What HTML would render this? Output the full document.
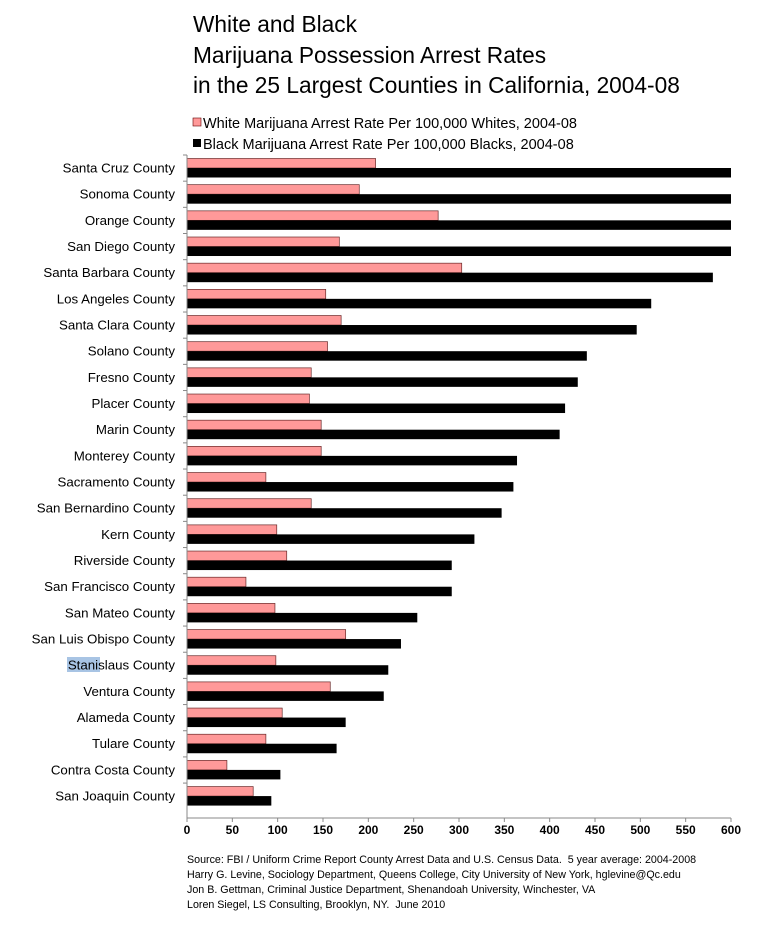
<!DOCTYPE html>
<html><head><meta charset="utf-8"><style>
body{margin:0;background:#fff;width:762px;height:930px;overflow:hidden;font-family:"Liberation Sans",Arial,sans-serif}
text{white-space:pre}
</style></head><body>
<svg width="762" height="930" xmlns="http://www.w3.org/2000/svg" font-family="Liberation Sans, Arial, sans-serif">
<g font-size="22.7" fill="#000">
<text x="193" y="32">White and Black</text>
<text x="193" y="63">Marijuana Possession Arrest Rates</text>
<text x="193" y="93">in the 25 Largest Counties in California, 2004-08</text>
</g>
<g font-size="14.5">
<rect x="193" y="118" width="8" height="8" fill="#ff9999" stroke="#600" stroke-width="0.6"/>
<text x="203" y="128">White Marijuana Arrest Rate Per 100,000 Whites, 2004-08</text>
<rect x="193" y="139" width="8" height="8" fill="#000"/>
<text x="203" y="149">Black Marijuana Arrest Rate Per 100,000 Blacks, 2004-08</text>
</g>
<rect x="67" y="657" width="33" height="15" fill="#a8c4e4"/>
<g id="plot"></g>
<g font-size="10.7" fill="#000">
<text x="187" y="863">Source: FBI / Uniform Crime Report County Arrest Data and U.S. Census Data.  5 year average: 2004-2008</text>
<text x="187" y="878">Harry G. Levine, Sociology Department, Queens College, City University of New York, hglevine@Qc.edu</text>
<text x="187" y="893">Jon B. Gettman, Criminal Justice Department, Shenandoah University, Winchester, VA</text>
<text x="187" y="908">Loren Siegel, LS Consulting, Brooklyn, NY.  June 2010</text>
</g>
</svg>
<script>
const counties=["Santa Cruz County","Sonoma County","Orange County","San Diego County","Santa Barbara County","Los Angeles County","Santa Clara County","Solano County","Fresno County","Placer County","Marin County","Monterey County","Sacramento County","San Bernardino County","Kern County","Riverside County","San Francisco County","San Mateo County","San Luis Obispo County","Stanislaus County","Ventura County","Alameda County","Tulare County","Contra Costa County","San Joaquin County"];
const whiteRates=[208,190,277,168,303,153,170,155,137,135,148,148,87,137,99,110,65,97,175,98,158,105,87,44,73];
const blackRates=[600,600,600,600,580,512,496,441,431,417,411,364,360,347,317,292,292,254,236,222,217,175,165,103,93];
const xTicks=[0,50,100,150,200,250,300,350,400,450,500,550,600];
const NS="http://www.w3.org/2000/svg";
const X0=187,X1=731,XMAX=600,TOP=155,BOT=818;
const rowH=26.17;
function xs(v){return X0+(Math.min(v,XMAX)/XMAX)*(X1-X0);}
function mk(tag,attrs){const e=document.createElementNS(NS,tag);for(const k in attrs)e.setAttribute(k,attrs[k]);return e;}
const g=document.getElementById('plot');
counties.forEach((c,i)=>{
  const y=TOP+i*rowH;
  const w=mk('rect',{x:X0,y:y+3.5,width:xs(whiteRates[i])-X0,height:9.5,fill:'#ff9999',stroke:'#6a2a2a','stroke-width':0.7});
  
  
  g.appendChild(w);
  const b=mk('rect',{x:X0,y:y+13,width:xs(blackRates[i])-X0,height:9.5,fill:'#000'});
  
  
  g.appendChild(b);
  const t=mk('text',{x:175,y:y+17.5,'text-anchor':'end','font-size':13.3});
  t.textContent=c;
  
  
  g.appendChild(t);
  const tk=mk('line',{x1:X0-4,x2:X0,y1:y,y2:y,stroke:'#888'});
  
  
  g.appendChild(tk);
});
const ya=mk('line',{x1:X0,x2:X0,y1:TOP,y2:BOT,stroke:'#888'});


g.appendChild(ya);
const xa=mk('line',{x1:X0,x2:X1,y1:BOT,y2:BOT,stroke:'#888'});


g.appendChild(xa);
xTicks.forEach(v=>{
  const l=mk('line',{x1:xs(v),x2:xs(v),y1:BOT,y2:BOT+4,stroke:'#888'});
  
  
  g.appendChild(l);
  const t=mk('text',{x:xs(v),y:BOT+16,'text-anchor':'middle','font-size':12,'font-weight':'bold'});
  t.textContent=v;
  
  
  g.appendChild(t);
});
</script>
</body></html>
